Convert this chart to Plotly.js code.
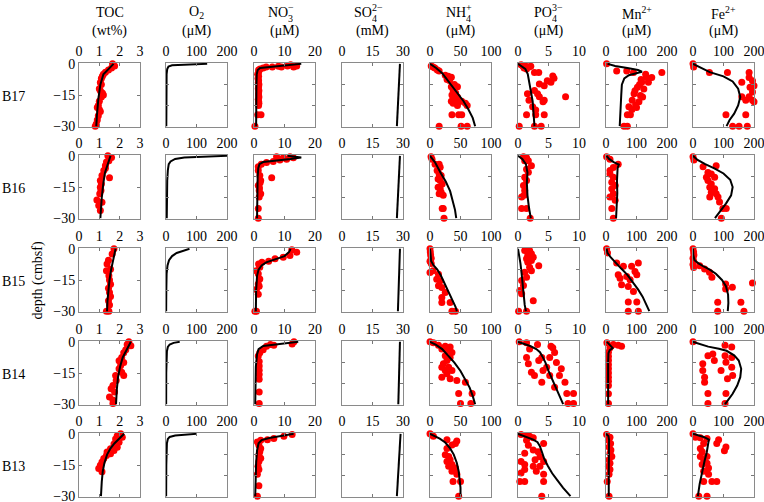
<!DOCTYPE html>
<html><head><meta charset="utf-8">
<script src="https://cdn.plot.ly/plotly-3.0.1.min.js"></script>
<style>html,body{margin:0;padding:0;background:#fff}#chart{width:764px;height:502px}</style>
</head><body><div id="chart"></div>
<script>
var stations = ['B17','B16','B15','B14','B13'];
var variables = ['TOC','O2','NO3','SO4','NH4','PO4','Mn','Fe'];
var xTickVals = [[0,1,2,3],[0,100,200],[0,10,20],[0,15,30],[0,50,100],[0,5,10],[0,100,200],[0,100,200]];
var depthTicks = [0,-15,-30];
var depthMinorTicks = [0,-10,-20,-30];
var titleBase = ['TOC','O<sub>2</sub>','NO','SO','NH','PO','Mn<sup>2+</sup>','Fe<sup>2+</sup>'];
var titleSub = [null,null,'3','4','4','4',null,null];
var titleSup = [null,null,'\u2212','2\u2212','+','3\u2212',null,null];
var titleUnit = ['(wt%)','(\u03bcM)','(\u03bcM)','(mM)','(\u03bcM)','(\u03bcM)','(\u03bcM)','(\u03bcM)'];
var depthLabel = 'depth (cmbsf)';

// ---- B17 ----  pairs are [value, depth]
var B17_TOC_fit = [[1.7,0],[1.45,-2.5],[1.2,-5],[1.05,-10],[0.95,-17],[0.88,-25],[0.85,-30]];
var B17_TOC_obs = [[1.65,0],[1.75,-1],[1.6,-2],[1.45,-3],[1.3,-4],[1.2,-5],[1.15,-6],[1.1,-7],[1.05,-9],[1.1,-10],[1.0,-12],[1.05,-13],[1.15,-14],[1.2,-15],[1.1,-16],[1.0,-18],[0.95,-20],[0.9,-21],[1.0,-22],[1.05,-23],[0.95,-25],[0.9,-27],[0.85,-29],[0.8,-30]];
var B17_O2_fit = [[135,0],[60,-0.3],[20,-0.7],[8,-1.3],[4,-2.5],[2,-5],[1,-15],[1,-30]];
var B17_NO3_fit = [[15.5,0],[10,-0.7],[5,-1.3],[2,-2],[1.2,-3],[0.9,-5],[0.8,-10],[0.7,-30]];
var B17_NO3_obs = [[12,-0.5],[14,-1],[13,-1.5],[11,-1],[9,-1.5],[8,-1.2],[6,-1.5],[4,-1.5],[3,-2],[2,-2.5],[1.5,-3],[1.5,-4],[1.2,-5],[1.5,-6],[1.3,-7],[1.5,-8],[1.4,-9],[1.6,-10],[1.5,-11],[1.4,-12],[1.6,-13],[1.5,-14],[1.5,-15],[1.6,-16],[1.4,-17],[1.5,-18],[1.6,-19],[1.5,-20],[1.2,-24.5],[2.3,-24.5],[0.3,-30]];
var B17_SO4_fit = [[28.5,0],[27,-30]];
var B17_NH4_fit = [[0,0],[10,-2],[20,-4.5],[33,-9.5],[45,-14],[55,-18],[63,-22],[70,-26],[74,-30]];
var B17_NH4_obs = [[2,-1],[5,-1.5],[8,-2],[12,-3],[15,-3.5],[25,-5.5],[30,-6],[35,-6.5],[28,-7.5],[32,-8],[35,-11],[40,-10],[45,-11],[38,-13],[42,-14],[36,-15],[45,-16],[40,-17],[35,-18],[48,-18],[38,-19],[45,-20],[58,-19],[52,-18],[61,-20],[36,-24.5],[47,-24.5],[52,-24.5],[15,-30],[51,-30],[61,-30]];
var B17_PO4_fit = [[0,0],[0.5,-1],[1.2,-2.5],[1.6,-4.9],[1.9,-9.7],[2.2,-14],[2.4,-18],[2.55,-24],[2.7,-30]];
var B17_PO4_obs = [[0.5,-0.5],[0.8,-1],[1.2,-1],[1.5,-1.5],[1.8,-1.5],[2.1,-1.2],[1,-2],[1.4,-2.5],[2.7,-4.2],[3.4,-4.2],[5.7,-5.8],[5.9,-6.9],[4.8,-8.1],[5.4,-8.9],[3.5,-9.7],[4.3,-10.5],[1.55,-14.4],[2.7,-12.8],[3.2,-14.4],[3.5,-15.9],[4.1,-18.3],[4.3,-17.5],[1.8,-17.5],[2.4,-20.6],[2.9,-22.2],[1.4,-24.5],[2.9,-24.5],[4.3,-24.5],[7.8,-15.9],[0.2,-30],[2.7,-30],[3.8,-30]];
var B17_Mn_fit = [[5,0],[30,-1],[70,-2],[105,-3],[118,-3.8],[100,-4.5],[75,-5.5],[60,-7],[52,-10],[50,-15],[48,-20],[46,-25],[45,-30]];
var B17_Mn_obs = [[2,0],[35,-3.4],[68,-3.4],[90,-4.2],[183,-4.2],[133,-6.6],[150,-6.6],[115,-7.5],[117,-8.9],[139,-8.9],[110,-10],[103,-11.3],[124,-12.1],[95,-13],[92,-14.4],[113,-15.2],[120,-16],[86,-17.5],[108,-18.3],[75,-20.6],[97,-19.8],[100,-21],[85,-22],[70,-24.5],[80,-24.5],[59,-30],[70,-30],[130,-5]];
var B17_Fe_fit = [[0,0],[20,-1.5],[55,-4],[100,-6],[130,-8.5],[148,-12],[155,-16],[148,-20],[135,-24],[120,-27],[110,-30]];
var B17_Fe_obs = [[0,0],[2,-1.5],[54,-4.2],[113,-4.2],[184,-4.2],[184,-6.6],[195,-8.1],[200,-10.5],[187,-11.3],[160,-8.9],[160,-15.9],[184,-15.9],[195,-17.5],[200,-18.3],[173,-17.5],[195,-13.6],[108,-24.5],[173,-24.5],[130,-30],[151,-30],[178,-30]];

// ---- B16 ----
var B16_TOC_fit = [[1.55,0],[1.4,-4],[1.28,-8],[1.2,-13],[1.12,-20],[1.05,-30]];
var B16_TOC_obs = [[1.42,0],[1.6,-0.8],[1.47,-2.4],[1.35,-3],[1.3,-4.7],[1.3,-6],[1.22,-7.1],[1.13,-9.5],[1.5,-10.6],[1.05,-11.9],[1.1,-13.5],[1.05,-15.1],[1.08,-16.7],[1.02,-18.3],[0.88,-21.2],[1.13,-22.3],[0.97,-23.9],[1.05,-26.3]];
var B16_O2_fit = [[200,0],[120,-0.3],[60,-0.8],[30,-1.5],[15,-2.7],[9,-4],[6,-7],[4,-12],[3,-20],[2.5,-30]];
var B16_NO3_fit = [[11,0],[15.5,-0.8],[12,-1.5],[7,-2.3],[3,-3],[1.8,-4],[1.4,-6],[1.2,-10],[1.1,-20],[1,-30]];
var B16_NO3_obs = [[7.4,-0.5],[9.6,-0.9],[11.8,-0.5],[12.9,-0.9],[10.7,-1.6],[8.5,-2],[6.3,-2.7],[4.1,-3.2],[2.4,-4],[1.4,-5.2],[5.8,-10.6],[1.4,-7.1],[1.9,-9.5],[2.2,-11.9],[2,-13],[1.4,-14.3],[1.8,-15.5],[1.7,-16.7],[2.2,-18.3],[1.7,-19.8],[1.4,-25.4],[1.4,-30]];
var B16_SO4_fit = [[28.5,0],[27,-30]];
var B16_NH4_fit = [[0,0],[8,-3],[18,-8.5],[26,-12.5],[33,-17],[38,-22],[41,-26],[43,-30]];
var B16_NH4_obs = [[1.7,-0.5],[3.3,-1.6],[8.3,-4],[15,-4],[16.7,-5.5],[11.7,-7.1],[15,-8.7],[18.3,-9.5],[13.3,-11.1],[16.7,-11.9],[20,-13.5],[13.3,-15.1],[16.7,-15.9],[18.3,-17.5],[21.7,-19],[15,-18.3],[20,-25.4],[21.7,-25.4],[23,-30]];
var B16_PO4_fit = [[0,0],[0.7,-1.5],[1.3,-4],[1.55,-8],[1.45,-13],[1.55,-19],[1.8,-25],[2.1,-30]];
var B16_PO4_obs = [[0.9,-0.5],[1.4,-0.9],[1.1,-2.4],[1.7,-2.4],[2.2,-4.8],[1.4,-6.4],[1.7,-7.9],[1.1,-10.3],[1.4,-11.9],[0.9,-14.3],[1.1,-16.7],[1.0,-19],[0.6,-19.8],[0.6,-25.4],[1.4,-25.4],[2.0,-30]];
var B16_Mn_fit = [[2,0],[10,-1.5],[25,-3],[42,-4.2],[38,-6],[36,-12],[37,-18],[36,-24],[33,-30]];
var B16_Mn_obs = [[2,-0.5],[13,-1.6],[40,-4],[24,-5.6],[13,-7.1],[13,-8.7],[24,-10.3],[19,-12.7],[30,-14.3],[19,-15.9],[24,-18.3],[13,-19.8],[30,-21.4],[19,-25.4],[24,-30]];
var B16_Fe_fit = [[0,0],[15,-2],[40,-4],[70,-6],[100,-8.5],[122,-11.5],[130,-15],[125,-19],[108,-23],[90,-26.5],[72,-30]];
var B16_Fe_obs = [[0,-0.5],[3,-2],[33,-5.2],[76,-4.8],[49,-8],[60,-8.7],[44,-10.3],[71,-10.3],[49,-11.9],[60,-13.5],[55,-15.1],[71,-15.9],[60,-17.5],[76,-18.3],[82,-19.8],[55,-19.8],[87,-22.2],[98,-25.4],[109,-25.4],[93,-30]];

// ---- B15 ----
var B15_TOC_fit = [[1.8,0],[1.68,-5],[1.58,-10],[1.5,-15],[1.44,-20],[1.4,-25],[1.38,-30]];
var B15_TOC_obs = [[1.72,0],[1.63,-2.5],[1.45,-5.5],[1.38,-7.3],[1.35,-10.5],[1.55,-9.8],[1.47,-12.9],[1.5,-15],[1.55,-17],[1.45,-19],[1.5,-21],[1.55,-23],[1.45,-25],[1.5,-27],[1.35,-30],[1.47,-30]];
var B15_O2_fit = [[77,0],[55,-1],[35,-2],[20,-3.5],[10,-5.5],[5,-8],[2,-12],[1,-20],[0.5,-30]];
var B15_NO3_fit = [[12,0],[11.5,-1.5],[10,-3.5],[7,-5],[4,-6.5],[2.5,-8],[1.5,-10],[1,-13],[0.7,-20],[0.6,-30]];
var B15_NO3_obs = [[12.4,-0.5],[14,-1.6],[11.8,-3.2],[9.6,-4],[6.9,-4.8],[4.8,-6],[2.6,-6.4],[1.5,-7.3],[1.9,-8.9],[0.8,-10.5],[1.4,-12],[1.9,-14.5],[1.4,-16.9],[1.7,-18],[0.8,-19.6],[1.4,-21.9],[0.8,-30],[0.3,-30]];
var B15_SO4_fit = [[28.5,0],[27.5,-30]];
var B15_NH4_fit = [[0,0],[0.5,-3],[2,-6],[6,-8],[12,-10],[18,-13],[23,-16],[28,-19],[33,-22],[38,-25],[42,-28],[44,-30]];
var B15_NH4_obs = [[0,0],[0.5,-1.5],[1,-3],[2,-4.5],[0,-6],[2,-7],[0,-11.4],[5,-10.6],[13.9,-12.2],[11,-14.6],[16.7,-15.4],[13.9,-17.8],[19.4,-18.6],[25,-21],[19.4,-23.4],[19.4,-25.8],[33,-25.8],[36,-30],[41.7,-30]];
var B15_PO4_fit = [[0,0],[0.2,-3],[0.4,-7],[0.6,-12],[0.75,-18],[0.9,-23],[1.1,-27],[1.3,-30]];
var B15_PO4_obs = [[1.1,-0.8],[1.9,-0.8],[2.2,-2.4],[1.6,-3.2],[2.5,-4],[1.4,-4.8],[2.2,-5.6],[1.6,-6.5],[3.4,-8.1],[1.9,-8.9],[2.2,-10.5],[1.1,-11.3],[1.4,-13.7],[0.6,-15.2],[0.9,-17.7],[0.3,-20],[0.6,-21.6],[2.5,-25],[0.1,-30],[1.4,-30]];
var B15_Mn_fit = [[2,0],[5,-2],[15,-4],[30,-6.5],[50,-9.5],[70,-12.5],[88,-16],[105,-19.5],[120,-23],[132,-26.5],[142,-30]];
var B15_Mn_obs = [[2,0],[5,-2],[35,-6.8],[57,-8.4],[84,-8.4],[106,-6.8],[95,-10.9],[68,-13.3],[40,-12.5],[46,-14.1],[101,-12.5],[79,-14.9],[51,-17.3],[73,-18.1],[90,-20.5],[73,-25.6],[101,-25.6],[73,-30],[106,-30]];
var B15_Fe_fit = [[0,0],[1,-3],[5,-5.5],[18,-7],[35,-8.5],[55,-10],[75,-12],[95,-15],[108,-18],[115,-22],[116,-26],[114,-30]];
var B15_Fe_obs = [[0,0],[2,-1.5],[3,-3],[0,-4.5],[2,-6],[0,-7.5],[2,-9],[22,-8.1],[38,-9.7],[54,-11.3],[62,-13.7],[107,-16.9],[129,-18.5],[107,-19.3],[195,-16.5],[81,-25.7],[157,-25.7],[81,-30],[167,-30]];

// ---- B14 ----
var B14_TOC_fit = [[2.55,0],[2.35,-3.5],[2.15,-7.5],[2.02,-12],[1.92,-17],[1.86,-23],[1.82,-30]];
var B14_TOC_obs = [[2.45,0],[2.37,-1.3],[2.55,-1.9],[2.3,-3.8],[2.2,-5.2],[2.1,-7.5],[1.97,-9.1],[2.2,-9.9],[2.05,-11.4],[1.97,-13],[2.1,-14.6],[1.8,-16.2],[2.2,-16.2],[1.83,-18.6],[1.67,-21],[1.58,-22.6],[1.75,-24.1],[1.5,-26.5],[1.67,-28],[1.67,-29.7]];
var B14_O2_fit = [[45,0],[25,-0.5],[12,-1.3],[6,-2.5],[3,-4.5],[1.5,-8],[0.8,-15],[0.5,-30]];
var B14_NO3_fit = [[14.5,0],[10,-0.8],[6,-1.3],[3,-2],[1.5,-3.5],[1,-6],[0.6,-12],[0.4,-30]];
var B14_NO3_obs = [[13.1,0],[12.5,-1],[5.4,-1.3],[6.5,-1.6],[4.1,-2.1],[3,-3.8],[1.9,-5.2],[1.4,-6.8],[1.7,-9.5],[1.7,-11.6],[1.7,-13.7],[1.7,-15.7],[1.7,-18],[1.7,-24.1],[1.7,-29.7]];
var B14_SO4_fit = [[28.5,0],[27.7,-30]];
var B14_NH4_fit = [[0,0],[10,-1.5],[20,-3.5],[30,-6.5],[40,-10],[50,-14],[58,-18],[65,-22],[70,-26],[74,-30]];
var B14_NH4_obs = [[0,0],[5.6,-0.5],[13.9,-1.6],[25,-2.1],[33,-2.5],[19.4,-3.5],[27.8,-4.3],[36,-5.1],[25,-6.7],[33,-7.5],[27.8,-9],[22,-10.6],[19.4,-12.2],[30.6,-12.2],[25,-13.8],[36,-13.8],[27.8,-15.4],[19.4,-17],[33,-17.8],[44,-18.6],[58,-19.4],[47,-24.9],[69,-24.9],[50,-29.7],[67,-29.7]];
var B14_PO4_fit = [[0,0],[1,-1],[2,-2],[3,-3.5],[3.6,-5],[4,-7],[4.5,-10],[5,-14],[5.6,-18],[6.2,-22],[6.8,-26],[7.4,-30]];
var B14_PO4_obs = [[0.2,0],[1.4,-0.5],[3.2,-1.3],[5.4,-2.1],[5.7,-2.9],[1.9,-3.5],[6,-5.1],[1.4,-7.5],[5.2,-7.5],[3.9,-7.5],[3.4,-9],[6.3,-9.9],[1.7,-10.6],[4.7,-12.2],[4.1,-13.8],[7.1,-13],[2.2,-14.6],[6.8,-16.2],[5.2,-16.2],[2.7,-16.2],[3.9,-19.4],[7.7,-19.4],[6,-21.8],[8,-24.9],[9.1,-24.9],[8.2,-29.7],[9.1,-29.7]];
var B14_Mn_fit = [[3,0],[10,-1],[18,-2],[22,-3],[12,-4],[8,-5.5],[7,-10],[7,-20],[7,-30]];
var B14_Mn_obs = [[3,-0.5],[24,-1.3],[40,-1.6],[51,-2.1],[13,-2.9],[8,-5],[8,-7],[8,-9],[8,-11],[8,-13],[8,-15],[8,-17],[8,-19],[8,-21],[8,-25],[8,-29.7]];
var B14_Fe_fit = [[0,0],[20,-1],[50,-2.3],[85,-3.3],[110,-4.3],[135,-6.5],[150,-9],[158,-13],[155,-17],[145,-21],[130,-25],[110,-29],[105,-30]];
var B14_Fe_obs = [[0,0],[105,-1.6],[127,-2.5],[65,-5.9],[49,-6.7],[105,-6.7],[127,-7.5],[70,-9],[32,-10.6],[108,-9.8],[92,-13.8],[32,-13.8],[38,-17],[130,-16.2],[113,-17.8],[38,-19.4],[49,-24.9],[108,-24.9],[49,-29.7],[105,-29.7],[127,-12.2]];

// ---- B13 ----
var B13_TOC_fit = [[2.22,0],[2.0,-2],[1.75,-4.5],[1.55,-7],[1.38,-10],[1.25,-14],[1.17,-18],[1.12,-23],[1.08,-30]];
var B13_TOC_obs = [[2.05,0],[1.88,-0.9],[2.13,-1.7],[1.8,-2.5],[1.97,-4.1],[1.72,-4.9],[1.88,-6.4],[1.55,-7.2],[1.38,-8.8],[1.72,-8],[1.35,-10.4],[1.55,-9.6],[1.22,-11.9],[1.13,-13.5],[1.05,-15.1],[0.97,-16.7],[1.13,-18.2]];
var B13_O2_fit = [[100,0],[60,-0.4],[30,-0.8],[12,-1.5],[6,-2.5],[3,-4.5],[1.5,-8],[1,-15],[0.5,-30]];
var B13_NO3_fit = [[13,0],[9,-1],[5,-2],[2.5,-3],[1.5,-4.5],[1,-8],[0.7,-14],[0.4,-30]];
var B13_NO3_obs = [[12.5,-0.3],[9.8,-1.2],[6.5,-2.3],[4.4,-2.8],[2.2,-3.1],[1.1,-3.9],[1.6,-5.5],[2.2,-7],[1.9,-8.6],[1.6,-10.2],[2.2,-11.7],[1.6,-13.3],[1.3,-15.6],[1.6,-17.2],[1.1,-19.5],[1.6,-25],[1.1,-30]];
var B13_SO4_fit = [[28.8,0],[27,-30]];
var B13_NH4_fit = [[0,0],[8,-1],[16,-2.3],[25,-4.2],[33,-7],[39,-10],[44,-14],[47,-18],[49,-22],[50,-26],[50,-30]];
var B13_NH4_obs = [[0,0],[2.8,-0.6],[5.6,-1.2],[27.8,-2.8],[44,-3.5],[41.7,-4.6],[36,-5.4],[27.8,-7],[25,-10.1],[30.6,-10.9],[33,-12.5],[27.8,-13.3],[36,-14.8],[30.6,-15.6],[41.7,-16.4],[36,-18],[44,-19.5],[37.8,-22.9],[50,-22.9],[47,-30]];
var B13_PO4_fit = [[0,0],[0.7,-0.8],[1.5,-1.8],[2.5,-2.8],[3.2,-4],[3.6,-6],[3.9,-8.5],[4.3,-12],[4.9,-15.5],[5.6,-19],[6.5,-22.5],[7.4,-26],[8.6,-30]];
var B13_PO4_obs = [[0.5,-0.3],[1.4,-0.8],[1.9,-1.2],[2.5,-1.9],[1.4,-3.1],[1.7,-5.5],[4.2,-4.7],[2.5,-7.8],[3.3,-8.6],[1.1,-9.4],[3.6,-11],[2.8,-12.5],[0.5,-13.3],[4.2,-13.3],[1.1,-14.8],[2.5,-15.6],[3.6,-15.6],[1.1,-17.2],[0.5,-18.8],[3,-18],[4.2,-19.5],[0.3,-22.9],[1.1,-22.9],[4.2,-22.9],[3.9,-30]];
var B13_Mn_fit = [[0,0],[8,-1],[10,-3],[9,-10],[9,-20],[9,-30]];
var B13_Mn_obs = [[2,-0.3],[13,-1.6],[8,-3.1],[15,-4.7],[10,-6.3],[16,-7.8],[13,-9.4],[19,-10.9],[10,-12.5],[13,-14.1],[8,-15.6],[13,-17.2],[10,-19.5],[4,-22.9],[10,-30]];
var B13_Fe_fit = [[0,0],[15,-0.7],[35,-1.5],[52,-2.8],[50,-5],[45,-9],[38,-13],[30,-18],[22,-24],[16,-30]];
var B13_Fe_obs = [[0,0],[8,-1.6],[24,-1.9],[46,-2.3],[84,-2.8],[78,-4.7],[35,-4.7],[24,-7],[30,-8.6],[108,-6.3],[103,-8.2],[46,-10.9],[24,-10.9],[35,-12.5],[46,-14.1],[30,-14.8],[51,-16.4],[35,-18],[51,-19.5],[35,-22.9],[62,-22.9],[78,-22.9],[19,-30],[46,-30]];

// ---------- build ----------
var W = 764, H = 502;
var colLeft = [79,166,254,342,430,518,606,693], colW = 61;
var rowTop = [63,155,248,341,433], rowH = 64;
var scriptX = [null,null,288,371.5,465.5,552,null,null];
var FONT = '"Liberation Serif", "Times New Roman", Times, serif';
function px(x){return x/W;}
function py(y){return 1 - y/H;}

var traces = [];
var layout = {
  width: W, height: H,
  margin: {l:0, r:0, t:0, b:0},
  paper_bgcolor: '#fff', plot_bgcolor: '#fff',
  showlegend: false,
  font: {family: FONT, size: 14, color: '#000'},
  annotations: []
};

stations.forEach(function(st, i){
  variables.forEach(function(v, j){
    var k = i*8 + j + 1;
    var sfx = (k === 1) ? '' : String(k);
    var xa = 'x' + sfx, ya = 'y' + sfx;
    var obs = window[st + '_' + v + '_obs'];
    var fit = window[st + '_' + v + '_fit'];
    if (obs) traces.push({type:'scatter', mode:'markers', x: obs.map(function(p){return p[0];}), y: obs.map(function(p){return p[1];}),
      xaxis: xa, yaxis: ya, marker: {color:'#ff0000', size:7}, cliponaxis: false, hoverinfo:'skip'});
    if (fit) traces.push({type:'scatter', mode:'lines', x: fit.map(function(p){return p[0];}), y: fit.map(function(p){return p[1];}),
      xaxis: xa, yaxis: ya, line: {color:'#000', width:2}, hoverinfo:'skip'});
    var tv = xTickVals[j];
    layout['xaxis' + sfx] = {
      domain: [px(colLeft[j]), px(colLeft[j] + colW)], anchor: ya, side: 'top',
      range: [tv[0], tv[tv.length-1]], tickvals: tv, ticks: 'inside', ticklen: 3, tickcolor: '#777',
      ticklabeloverflow: 'allow',
      mirror: 'ticks', showline: true, linecolor: '#8a8a8a', linewidth: 1,
      showgrid: false, zeroline: false, tickfont: {family: FONT, size: 14, color: '#000'}, fixedrange: true
    };
    layout['yaxis' + sfx] = {
      domain: [py(rowTop[i] + rowH), py(rowTop[i])], anchor: xa,
      range: [-30.4, 0.4], tickvals: j === 0 ? depthTicks : depthMinorTicks, showticklabels: j === 0,
      ticks: 'inside', ticklen: 3, tickcolor: '#777', ticklabeloverflow: 'allow',
      mirror: 'ticks', showline: true, linecolor: '#8a8a8a', linewidth: 1,
      showgrid: false, zeroline: false, tickfont: {family: FONT, size: 14, color: '#000'}, fixedrange: true
    };
  });
  layout.annotations.push({xref:'paper', yref:'paper', x: px(13), y: py(rowTop[i] + rowH/2 + 1), text: st,
    showarrow:false, xanchor:'center', yanchor:'middle', font:{family:FONT, size:14, color:'#000'}});
});

layout.annotations.push({xref:'paper', yref:'paper', x: px(37.5), y: py(281), text: depthLabel, textangle: -90,
  showarrow:false, xanchor:'center', yanchor:'middle', font:{family:FONT, size:14, color:'#000'}});

variables.forEach(function(v, j){
  var cx = colLeft[j] + colW/2;
  if (titleSub[j] !== null) {
    var xb = scriptX[j];
    layout.annotations.push({xref:'paper', yref:'paper', x: px(xb), y: py(13), text: titleBase[j], borderpad:0,
      showarrow:false, xanchor:'right', yanchor:'middle', xshift: 1, font:{family:FONT, size:14, color:'#000'}});
    layout.annotations.push({xref:'paper', yref:'paper', x: px(xb), y: py(18.5), text: titleSub[j], borderpad:0, height: 9,
      showarrow:false, xanchor:'left', yanchor:'middle', xshift: -1, font:{family:FONT, size:10, color:'#000'}});
    layout.annotations.push({xref:'paper', yref:'paper', x: px(xb), y: py(8), text: titleSup[j], borderpad:0, height: 9,
      showarrow:false, xanchor:'left', yanchor:'middle', xshift: -1, font:{family:FONT, size:10, color:'#000'}});
  } else {
    layout.annotations.push({xref:'paper', yref:'paper', x: px(cx), y: py(13), text: titleBase[j],
      showarrow:false, xanchor:'center', yanchor:'middle', font:{family:FONT, size:14, color:'#000'}});
  }
  layout.annotations.push({xref:'paper', yref:'paper', x: px(cx), y: py(31), text: titleUnit[j],
    showarrow:false, xanchor:'center', yanchor:'middle', font:{family:FONT, size:14, color:'#000'}});
});

Plotly.newPlot('chart', traces, layout, {displayModeBar:false, staticPlot:true});
</script>
</body></html>
